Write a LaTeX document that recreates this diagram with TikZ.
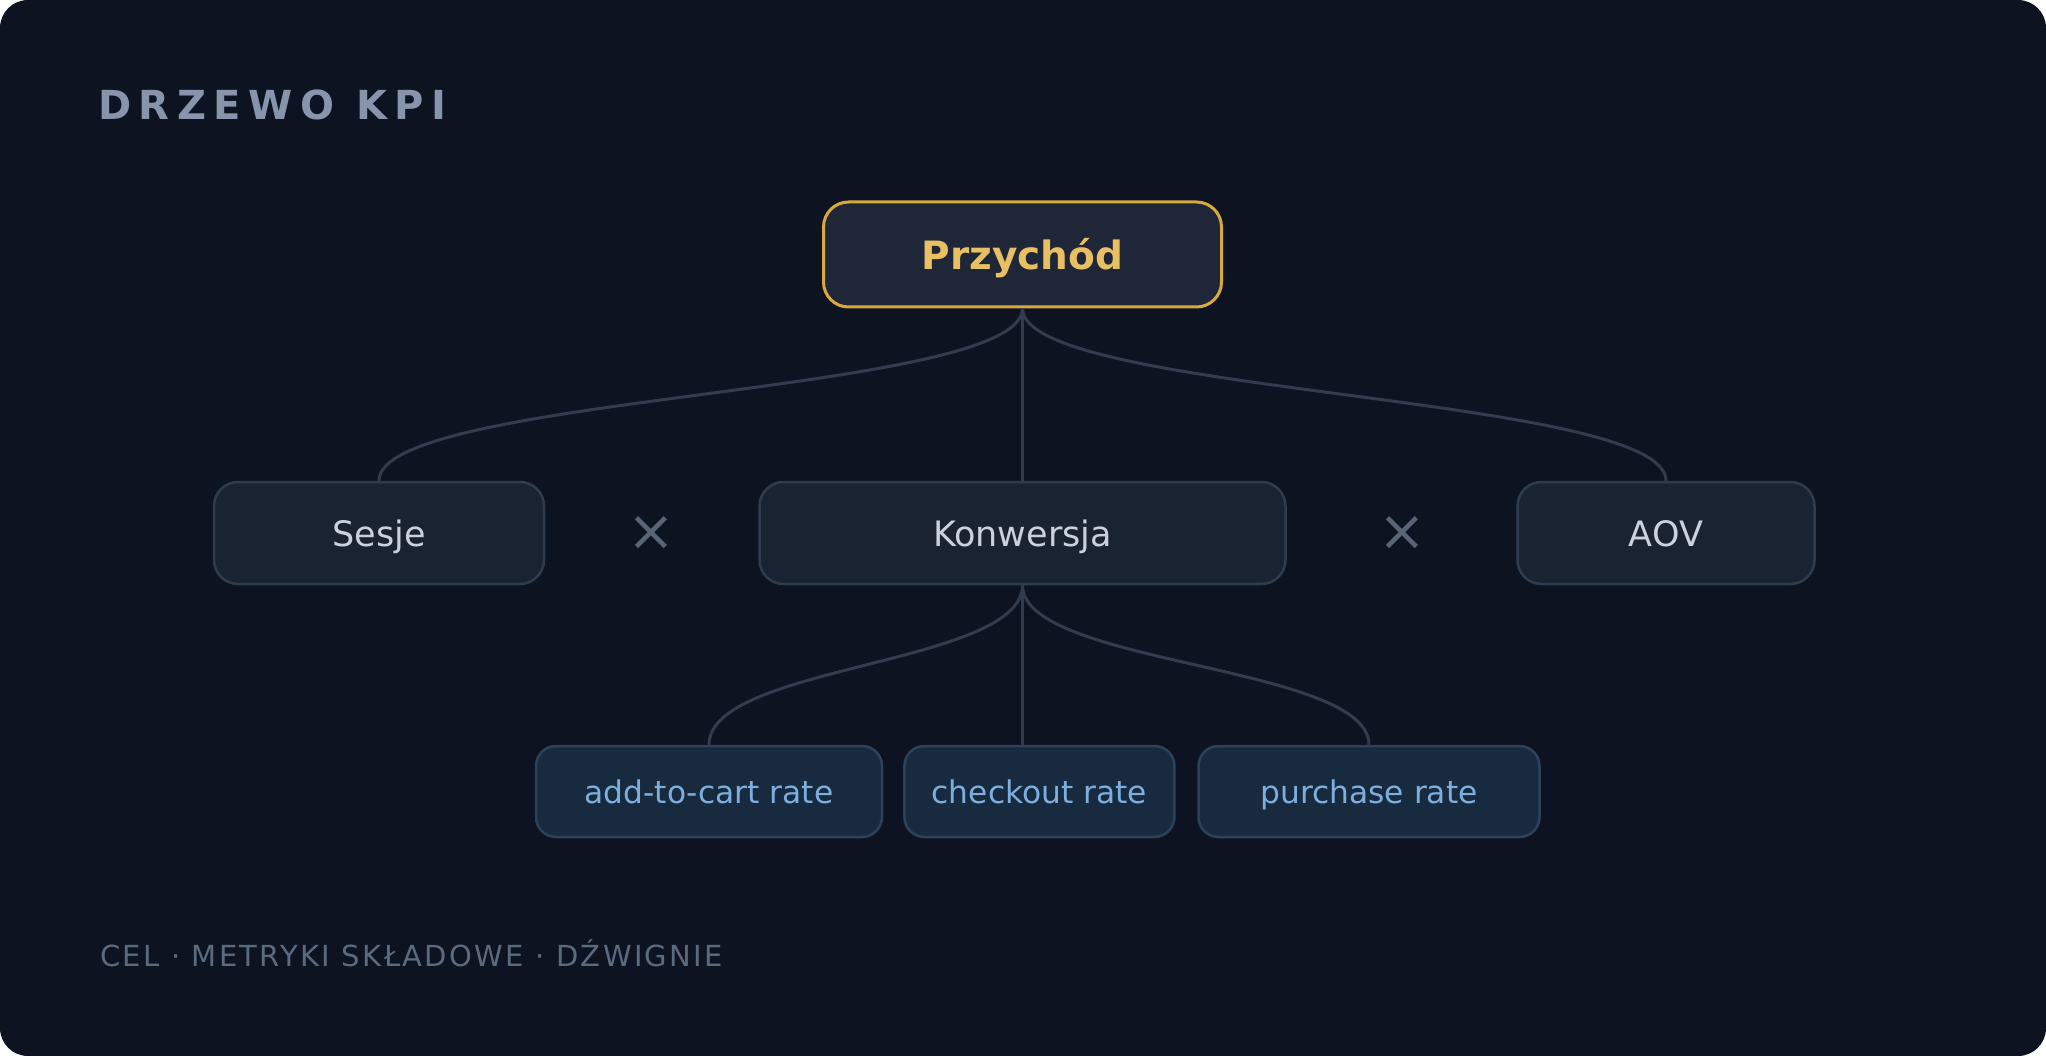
\documentclass[tikz,border=0pt]{standalone}
\usepackage{fontspec}
\setmainfont{DejaVu Sans}
\newfontfamily\titlefont[LetterSpace=19]{DejaVu Sans}
\newfontfamily\footfont[LetterSpace=8]{DejaVu Sans}
\usepackage{xcolor}
\usepackage{tikz}
\usetikzlibrary{positioning,calc}

\definecolor{pagebg}{HTML}{0D1320}
\definecolor{goalfill}{HTML}{1E2638}
\definecolor{goalline}{HTML}{D9A93E}
\definecolor{goaltext}{HTML}{E8BF62}
\definecolor{metricfill}{HTML}{1A2332}
\definecolor{metricline}{HTML}{2F3B4E}
\definecolor{metrictext}{HTML}{CBD2DE}
\definecolor{leverfill}{HTML}{182A3E}
\definecolor{leverline}{HTML}{2C425A}
\definecolor{levertext}{HTML}{7DAEE0}
\definecolor{linkcol}{HTML}{323C4E}
\definecolor{titlecol}{HTML}{8794AB}
\definecolor{footcol}{HTML}{5C6A80}
\definecolor{timescol}{HTML}{5A6478}

\begin{document}
\begin{tikzpicture}[
    x=1pt, y=-1pt,
    % top: the goal
    goal/.style={draw=goalline, fill=goalfill, line width=3pt,
      rounded corners=25pt, inner sep=0pt, text=goaltext,
      font=\fontsize{39}{41}\selectfont\bfseries,
      text height=31pt, text depth=0pt, minimum height=105pt},
    % middle: component metrics (Sesje, Konwersja, AOV)
    metric/.style={draw=metricline, fill=metricfill, line width=2.5pt,
      rounded corners=24pt, inner sep=0pt, text=metrictext,
      font=\fontsize{35}{37}\selectfont,
      text height=26pt, text depth=0pt, minimum height=102pt},
    % bottom: levers of Konwersja
    lever/.style={draw=leverline, fill=leverfill, line width=2.5pt,
      rounded corners=20pt, inner sep=0pt, text=levertext,
      font=\fontsize{31.3}{33}\selectfont,
      text height=23.6pt, text depth=0pt, minimum height=91pt},
    link/.style={draw=linkcol, line width=3pt},
    times/.style={text=timescol, inner sep=0pt,
      font=\fontsize{57}{57}\selectfont},
  ]
    % page
    \fill[white] (0,0) rectangle (2046,1056);
    \fill[pagebg, rounded corners=28pt] (0,0) rectangle (2046,1056);

    \node[anchor=base west, inner sep=0pt, text=titlecol,
      font=\titlefont\bfseries\fontsize{40}{42}\selectfont]
      (title) at (98,119.3) {DRZEWO KPI};

    \node[goal, minimum width=398pt] (revenue) at (1022.5,254.5) {Przychód};

    \node[metric, minimum width=330pt] (sessions) at (379,533) {Sesje};
    \node[metric, minimum width=526pt] (conversion) at (1022.5,533) {Konwersja};
    \node[metric, minimum width=297pt] (aov) at (1666,533) {AOV};

    \node[times] (x1) at (651.5,533.5) {×};
    \node[times] (x2) at (1402,533.5) {×};

    \node[lever, minimum width=346pt] (cart) at (709,791.5) {add-to-cart rate};
    \node[lever, minimum width=270pt] (checkout) at (1039.4,791.5) {checkout rate};
    \node[lever, minimum width=341pt] (purchase) at (1369,791.5) {purchase rate};

    % goal -> metrics
    \draw[link] (revenue.south) .. controls +(0,86.5) and +(0,-86.5) .. (sessions.north);
    \draw[link] (revenue.south) -- (conversion.north);
    \draw[link] (revenue.south) .. controls +(0,86.5) and +(0,-86.5) .. (aov.north);

    % conversion -> levers
    \draw[link] (conversion.south) .. controls +(0,80) and +(0,-80) .. (cart.north);
    \draw[link] (conversion.south) -- (conversion.south |- checkout.north);
    \draw[link] (conversion.south) .. controls +(0,80) and +(0,-80) .. (purchase.north);

    \node[anchor=base west, inner sep=0pt, text=footcol,
      font=\footfont\fontsize{29}{31}\selectfont]
      (footer) at (100,966.7) {CEL · METRYKI SKŁADOWE · DŹWIGNIE};
\end{tikzpicture}
\end{document}
